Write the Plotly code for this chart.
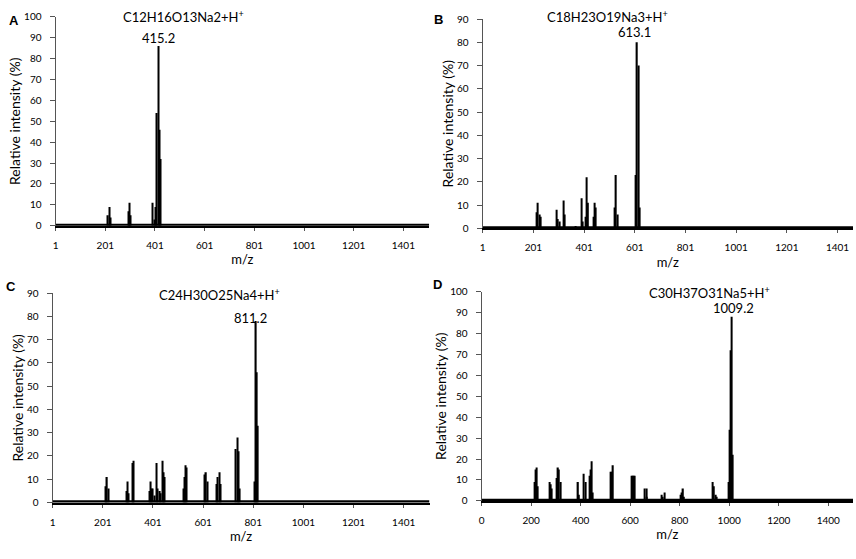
import plotly.graph_objects as go

# ---- data (m/z of peak, relative intensity %) ----
a_mz = [212, 218, 222, 294, 298, 302, 392, 398, 405, 409, 414, 418, 423]
a_int = [5, 9, 4, 7, 11, 5, 11, 3, 9, 54, 86, 46, 32]

b_mz = [214, 219, 225, 230, 293, 298, 303, 320, 325, 366, 391, 396, 406, 412, 417,
        438, 442, 446, 521, 527, 532, 605, 610, 615, 620]
b_int = [7, 11, 6, 5, 8, 4, 3, 12, 6, 1, 13, 3, 5, 22, 11,
         5, 11, 9, 9, 23, 6, 23, 80, 70, 9]

c_mz = [214, 218, 225, 296, 300, 304, 320, 324, 389, 393, 397, 401, 409, 415, 420,
        429, 433, 439, 443, 448, 523, 528, 532, 536, 607, 613, 618, 655, 660, 666, 671,
        732, 737, 742, 748, 805, 812, 816, 820]
c_int = [7, 11, 6, 5, 9, 4, 17, 18, 5, 9, 6, 6, 3, 17, 6,
         5, 4, 18, 13, 11, 6, 11, 16, 15, 12, 13, 9, 8, 11, 13, 8,
         23, 28, 22, 6, 9, 78, 56, 33]

d_mz = [213, 217, 221, 227, 274, 278, 283, 305, 309, 313, 318, 390, 394, 413, 419,
        435, 439, 444, 449, 523, 527, 531, 607, 611, 615, 619, 659, 665, 668,
        727, 732, 739, 806, 810, 814, 818, 933, 939, 944, 948, 999, 1003, 1006, 1010, 1014]
d_int = [9, 15, 16, 7, 9, 8, 6, 11, 16, 15, 9, 9, 3, 13, 9,
         12, 15, 19, 4, 14, 14, 17, 12, 12, 12, 12, 6, 6, 2,
         3, 2, 4, 3, 4, 6, 2, 9, 7, 3, 2, 9, 34, 72, 88, 22]

baseline_level = 0.3

odd_ticks = [1, 201, 401, 601, 801, 1001, 1201, 1401]
even_ticks = [0, 200, 400, 600, 800, 1000, 1200, 1400]

formulas = ["C12H16O13Na2+H<sup>+</sup>", "C18H23O19Na3+H<sup>+</sup>",
            "C24H30O25Na4+H<sup>+</sup>", "C30H37O31Na5+H<sup>+</sup>"]
peak_labels = ["415.2", "613.1", "811.2", "1009.2"]
letters = ["A", "B", "C", "D"]

W, H = 856, 559
FONT = "Lato"

# layout of each panel in pixels of the 856x559 figure
panels = [
    dict(mz=a_mz, inten=a_int, xr=[0.5, 1505], yr=[0, 100], ticks=odd_ticks,
         px=(52.7, 427.7), py=(10, 224), form_px=(181, 10), lab_px=(156, 32),
         letter_px=(11, 14)),
    dict(mz=b_mz, inten=b_int, xr=[0.5, 1462], yr=[0, 90], ticks=odd_ticks,
         px=(481.3, 853), py=(12.3, 226.7), form_px=(606.7, 10), lab_px=(634, 26),
         letter_px=(437, 13)),
    dict(mz=c_mz, inten=c_int, xr=[0.5, 1504], yr=[0, 90], ticks=odd_ticks,
         px=(49.7, 428), py=(293, 507.3), form_px=(217.5, 294), lab_px=(248, 318),
         letter_px=(8, 286)),
    dict(mz=d_mz, inten=d_int, xr=[0, 1500], yr=[0, 100], ticks=even_ticks,
         px=(480.3, 853), py=(291.3, 505.7), form_px=(709, 292), lab_px=(733, 308),
         letter_px=(436, 284)),
]


def paper(pt):
    return pt[0] / W, 1 - pt[1] / H


def label(pt, text, size, family=FONT):
    x, y = paper(pt)
    return dict(x=x, y=y, xref="paper", yref="paper", text=text, showarrow=False,
                xanchor="center", yanchor="middle",
                font=dict(size=size, color="black", family=family))


fig = go.Figure()
annotations = []
layout = {}

for i, p in enumerate(panels):
    n = "" if i == 0 else str(i + 1)
    xa, ya = "x" + n, "y" + n

    fig.add_trace(go.Bar(x=p["mz"], y=p["inten"], width=5,
                         marker=dict(color="black", line_width=0),
                         xaxis=xa, yaxis=ya, showlegend=False, hoverinfo="x+y"))
    # noisy baseline of the spectrum, drawn as one thick line
    fig.add_trace(go.Scatter(x=p["xr"], y=[baseline_level, baseline_level], mode="lines",
                             line=dict(color="black", width=3),
                             xaxis=xa, yaxis=ya, showlegend=False, hoverinfo="skip"))

    layout["xaxis" + n] = dict(
        domain=[p["px"][0] / W, p["px"][1] / W], range=p["xr"], anchor=ya,
        tickvals=p["ticks"], ticks="outside", ticklen=3, tickcolor="#555",
        showline=True, linecolor="black", linewidth=2, showgrid=False, zeroline=False,
        tickfont=dict(size=10, color="black"), ticklabelstandoff=6,
        title=dict(text="m/z", font=dict(size=13, color="black"), standoff=5),
    )
    layout["yaxis" + n] = dict(
        domain=[1 - p["py"][1] / H, 1 - p["py"][0] / H], range=p["yr"], anchor=xa,
        dtick=10, ticks="outside", ticklen=5, tickcolor="#555",
        showline=True, linecolor="#555", linewidth=1, showgrid=False, zeroline=False,
        tickfont=dict(size=10, color="black"), ticklabelstandoff=6,
        title=dict(text="Relative intensity (%)", font=dict(size=14, color="black"), standoff=0),
    )

    annotations.append(label(p["form_px"], formulas[i], 13))
    annotations.append(label(p["lab_px"], peak_labels[i], 13))
    annotations.append(label(p["letter_px"], "<b>" + letters[i] + "</b>", 13,
                             "Arial, Liberation Sans"))

fig.update_layout(
    width=W, height=H,
    margin=dict(l=0, r=0, t=0, b=0),
    paper_bgcolor="white", plot_bgcolor="white",
    font=dict(family=FONT, color="black"),
    annotations=annotations,
    **layout,
)

# drop the default page margin so the figure sits at the window's corner
fig.write_html("out.html", config={"displayModeBar": False},
               post_script="document.body.style.margin='0';")
